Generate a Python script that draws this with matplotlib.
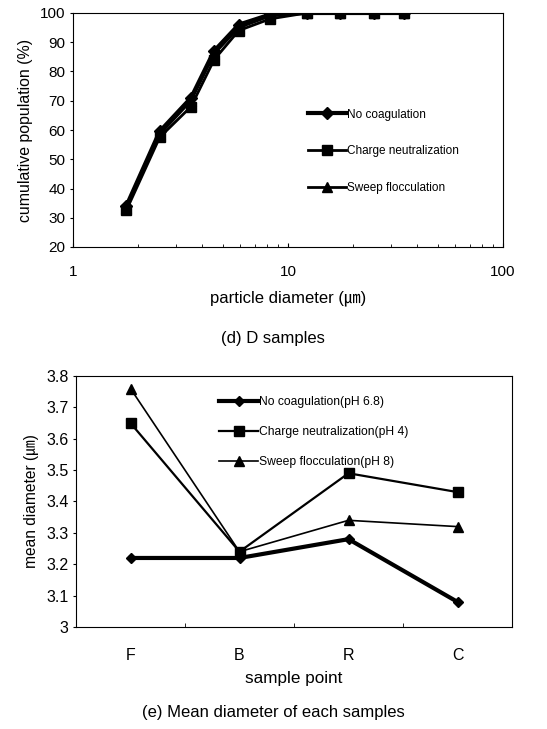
import numpy as np
import matplotlib
matplotlib.use("Agg")
import matplotlib.pyplot as mp

mp.rcParams['font.family'] = ['Liberation Sans', 'Noto Sans CJK KR', 'DejaVu Sans']

# (d) cumulative size distribution of D samples
diam = [1.77, 2.53, 3.54, 4.53, 5.9, 8.27, 12.2, 17.4, 25.0, 34.5]
no_coag = [34, 59.5, 71, 87, 96, 99.5, 100, 100, 100, 100]
charge = [32.5, 57.5, 68, 84, 94, 98, 100, 100, 100, 100]
sweep = [33.5, 58.5, 70, 86, 95, 99, 100, 100, 100, 100]
labels_d = ['No coagulation', 'Charge neutralization', 'Sweep flocculation']

# (e) mean diameter at each sample point
points = ['F', 'B', 'R', 'C']
mean_no = [3.22, 3.22, 3.28, 3.08]
mean_charge = [3.65, 3.24, 3.49, 3.43]
mean_sweep = [3.76, 3.24, 3.34, 3.32]
labels_e = ['No coagulation(pH 6.8)', 'Charge neutralization(pH 4)',
            'Sweep flocculation(pH 8)']

W, H = 547, 729
fig = mp.figure(figsize=(W / 100, H / 100), dpi=100)

def box(l, t, r, b):
    return [l / W, 1 - b / H, (r - l) / W, (b - t) / H]

# top panel
ax_1 = fig.add_axes(box(73, 13, 503, 247))
ax_1.set_xscale('log')
ax_1.plot(diam, no_coag, color='black', lw=3.0, marker='D', ms=6, label=labels_d[0])
ax_1.plot(diam, charge, color='black', lw=2.0, marker='s', ms=7, label=labels_d[1])
ax_1.plot(diam, sweep, color='black', lw=2.0, marker='^', ms=7, label=labels_d[2])
ax_1.set_xlim(1, 100)
ax_1.set_ylim(20, 100)
ax_1.set_yticks(np.arange(20, 101, 10))
ax_1.set_xticks([1, 10, 100])
ax_1.set_xticklabels(['1', '10', '100'])
ax_1.tick_params(axis='x', which='major', direction='in', length=3, pad=13, labelsize=11)
ax_1.tick_params(axis='x', which='minor', direction='in', length=2)
ax_1.tick_params(axis='y', direction='out', length=2, labelsize=11)
ax_1.set_xlabel('particle diameter (㎛)', fontsize=12, labelpad=8)
ax_1.set_ylabel('cumulative population (%)', fontsize=11.4, labelpad=5)
for s in ax_1.spines.values():
    s.set_linewidth(0.8)
ax_1.legend(loc='upper left', bbox_to_anchor=(0.533, 0.617), frameon=False,
            fontsize=8.5, labelspacing=2.1, handlelength=3.2, handletextpad=0.1,
            borderpad=0)
fig.text(273 / W, 1 - 339 / H, '(d) D samples', ha='center', va='center', fontsize=12)

# bottom panel
ax_2 = fig.add_axes(box(76, 376, 512, 627))
x = np.arange(len(points))
ax_2.plot(x, mean_no, color='black', lw=3.0, marker='D', ms=5, label=labels_e[0])
ax_2.plot(x, mean_charge, color='black', lw=1.6, marker='s', ms=7, label=labels_e[1])
ax_2.plot(x, mean_sweep, color='black', lw=1.2, marker='^', ms=7, label=labels_e[2])
ax_2.set_xlim(-0.5, 3.5)
ax_2.set_ylim(3.0, 3.8)
ax_2.set_yticks(np.arange(3.0, 3.81, 0.1))
ax_2.set_yticklabels(['3', '3.1', '3.2', '3.3', '3.4', '3.5', '3.6', '3.7', '3.8'])
ax_2.set_xticks(x)
ax_2.set_xticklabels(points)
ax_2.set_xticks([0.5, 1.5, 2.5], minor=True)
ax_2.tick_params(axis='x', which='major', length=0, pad=15, labelsize=11.5)
ax_2.tick_params(axis='x', which='minor', direction='in', length=3)
ax_2.tick_params(axis='y', direction='out', length=2, labelsize=11.5)
ax_2.set_xlabel('sample point', fontsize=12.3, labelpad=6)
ax_2.set_ylabel('mean diameter (㎛)', fontsize=11.2, labelpad=5)
for s in ax_2.spines.values():
    s.set_linewidth(0.8)
ax_2.legend(loc='upper left', bbox_to_anchor=(0.314, 0.945), frameon=False,
            fontsize=8.7, labelspacing=1.5, handlelength=3.25, handletextpad=0.1,
            borderpad=0)
fig.text(273 / W, 1 - 712 / H, '(e) Mean diameter of each samples', ha='center',
         va='center', fontsize=12)

fig.savefig('out.png', dpi=100)
